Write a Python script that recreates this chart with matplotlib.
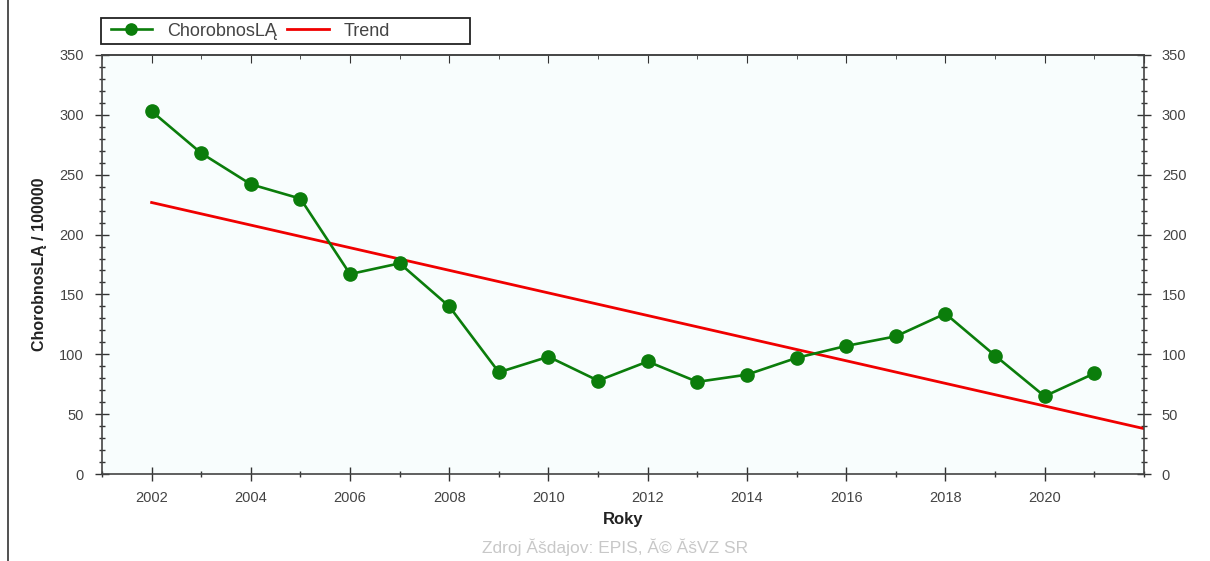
import numpy as np
from matplotlib import pyplot as plt
from matplotlib.lines import Line2D
from matplotlib.patches import Rectangle
from matplotlib.ticker import MultipleLocator

roky = [2002, 2003, 2004, 2005, 2006, 2007, 2008, 2009, 2010, 2011,
        2012, 2013, 2014, 2015, 2016, 2017, 2018, 2019, 2020, 2021]
chorobnost = [303, 268, 242, 230, 167, 176, 140, 85, 98, 78,
              94, 77, 83, 97, 107, 115, 134, 99, 65, 84]
trend_od, trend_do = 2002, 2022

plt.rcParams['font.family'] = ['Liberation Sans', 'DejaVu Sans']

fig = plt.figure(figsize=(12.1, 5.61), dpi=100)
ax = fig.add_axes([0.0843, 0.155, 0.861, 0.747])
ax.set_facecolor('#f8fdfd')

k, q = np.polyfit(roky, chorobnost, 1)
xt = np.array([trend_od, trend_do])

ax.plot(roky, chorobnost, color='#0b7d0b', lw=1.9, marker='o', ms=9.5,
        markeredgecolor='#0b7d0b', label='ChorobnosLĄ', zorder=3)
ax.plot(xt, k * xt + q, color='#f00000', lw=2, label='Trend', zorder=2)

ax.set_xlim(2001, 2022)
ax.set_ylim(0, 350)
ax.set_xticks(roky[::2])
ax.xaxis.set_minor_locator(MultipleLocator(1))
ax.yaxis.set_major_locator(MultipleLocator(50))
ax.yaxis.set_minor_locator(MultipleLocator(10))

ax.tick_params(axis='both', which='both', colors='#333333', labelcolor='#444444',
               labelsize=10.5, width=1)
ax.tick_params(axis='x', which='major', direction='inout', length=10, pad=7)
ax.tick_params(axis='x', which='minor', direction='inout', length=5)
ax.tick_params(axis='y', which='major', direction='inout', length=10, pad=8,
               right=True, labelright=True)
ax.tick_params(axis='y', which='minor', direction='inout', length=5, right=True)

# horni osa - jen kratke znacky dovnitr
top = ax.secondary_xaxis('top')
top.set_xticks(roky[::2] + [2022])
top.xaxis.set_minor_locator(MultipleLocator(1))
top.tick_params(which='major', direction='in', length=6, labeltop=False, colors='#333333')
top.tick_params(which='minor', direction='in', length=3, colors='#333333')
top.spines['top'].set_color('#444444')
top.spines['top'].set_linewidth(1.2)

for s in ax.spines.values():
    s.set_color('#444444')
    s.set_linewidth(1.2)

ax.set_xlabel('Roky', fontsize=12, fontweight='bold', color='#222222', labelpad=5)
ax.set_ylabel('ChorobnosLĄ / 100000', fontsize=11.5, fontweight='bold', color='#222222',
              labelpad=9)

leg = fig.legend(*ax.get_legend_handles_labels(), loc='center left',
                 bbox_to_anchor=(0.0855, 0.9447), ncol=2, fontsize=13,
                 frameon=False, handlelength=2.3, handletextpad=0.8,
                 columnspacing=0.6, markerscale=0.85, borderaxespad=0)
for t in leg.get_texts():
    t.set_color('#444444')
fig.add_artist(Rectangle((0.0835, 0.9216), 0.305, 0.0463, transform=fig.transFigure,
                         fill=False, edgecolor='#222222', lw=1.3))

fig.text(0.508, 0.015, 'Zdroj Ăšdajov: EPIS, Ă© ĂšVZ SR', ha='center', fontsize=12.5,
         color='#c8c8c8')
fig.add_artist(Line2D([0.0066, 0.0066], [0, 1], transform=fig.transFigure,
                      color='#333333', lw=1.2))

fig.savefig('out.png', dpi=100)
